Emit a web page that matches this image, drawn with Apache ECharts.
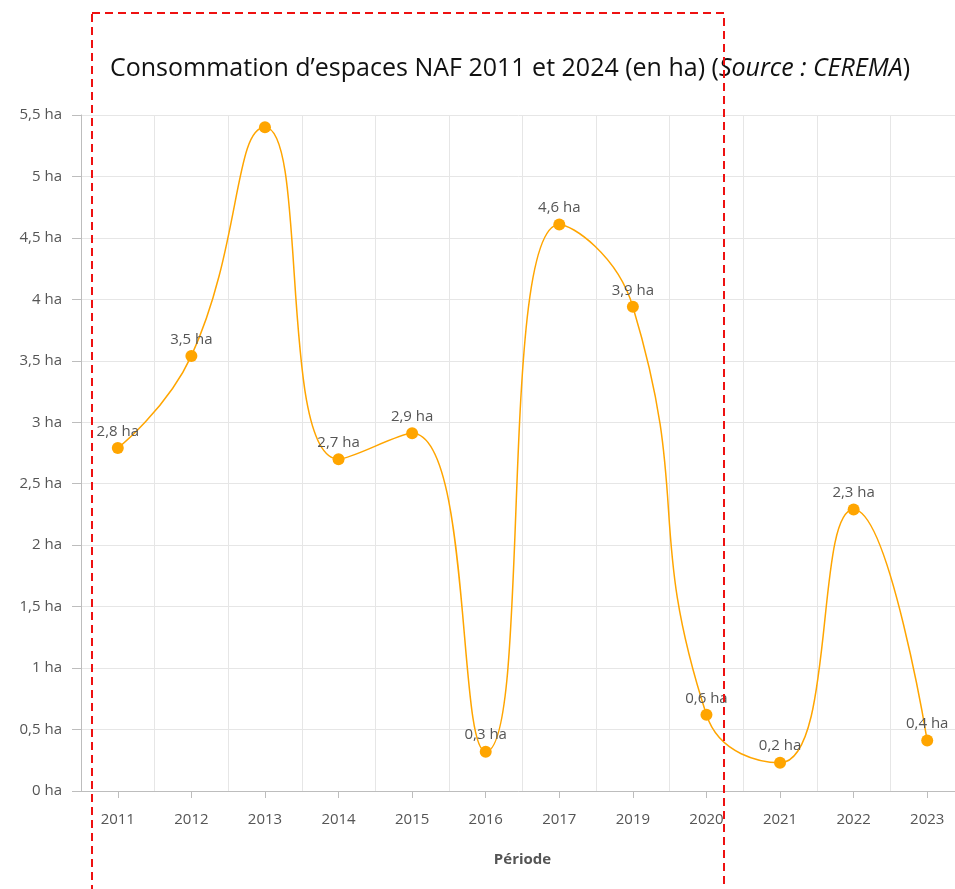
<!DOCTYPE html>
<html>
<head>
<meta charset="utf-8">
<style>
  html, body { margin: 0; padding: 0; background: #fff; }
  #chart { width: 955px; height: 889px; }
</style>
<script src="https://cdn.jsdelivr.net/npm/echarts@6/dist/echarts.min.js"></script>
</head>
<body>
<div id="chart"></div>
<script>
// Années (2018 absente de la série)
const years = ['2011', '2012', '2013', '2014', '2015', '2016', '2017', '2019', '2020', '2021', '2022', '2023'];
// Consommation d'espaces NAF, en hectares
const consumptionHa = [2.79, 3.54, 5.40, 2.70, 2.91, 0.32, 4.61, 3.94, 0.62, 0.23, 2.29, 0.41];
// Années dont la valeur est affichée au-dessus du point
const labelledYears = ['2011', '2012', '2014', '2015', '2016', '2017', '2019', '2020', '2021', '2022', '2023'];
// Graduations de l'axe des valeurs
const yMin = 0, yMax = 5.5, yStep = 0.5;

const FONT = '"Open Sans", "Noto Sans", sans-serif';
const fmtHa = v => (Math.round(v * 10) / 10).toString().replace('.', ',') + ' ha';

const chart = echarts.init(document.getElementById('chart'), null, { renderer: 'canvas' });

chart.setOption({
  animation: false,
  backgroundColor: '#ffffff',
  textStyle: { fontFamily: FONT },
  title: {
    text: 'Consommation d\u2019espaces NAF 2011 et 2024 (en ha) ({i|Source : CEREMA})',
    left: 505,
    textAlign: 'center',
    top: 51,
    textStyle: {
      fontFamily: FONT,
      fontSize: 25,
      fontWeight: 'normal',
      color: '#111',
      rich: {
        i: { fontFamily: FONT, fontSize: 25, fontStyle: 'italic', color: '#111' }
      }
    }
  },
  // la zone de tracé déborde légèrement à droite du cadre
  grid: { left: 81, right: -9, top: 115, bottom: 98, containLabel: false, outerBoundsMode: 'none' },
  xAxis: {
    type: 'category',
    data: years,
    boundaryGap: true,
    name: 'Période',
    nameLocation: 'middle',
    nameGap: 61,
    nameTextStyle: { fontFamily: FONT, fontSize: 15, fontWeight: 'bold', color: '#555' },
    axisLine: { show: true, lineStyle: { color: '#bdbdbd', width: 1 } },
    axisTick: { show: true, alignWithLabel: true, length: 7, lineStyle: { color: '#bdbdbd' } },
    axisLabel: { fontFamily: FONT, fontSize: 15, color: '#555', margin: 21 },
    splitLine: { show: true, lineStyle: { color: '#e6e6e6', width: 1 } }
  },
  yAxis: {
    type: 'value',
    min: yMin,
    max: yMax,
    interval: yStep,
    axisLine: { show: true, lineStyle: { color: '#bdbdbd', width: 1 } },
    axisTick: { show: true, inside: false, length: 9, lineStyle: { color: '#bdbdbd' } },
    axisLabel: { fontFamily: FONT, fontSize: 15, color: '#555', margin: 19, formatter: fmtHa },
    splitLine: { show: true, lineStyle: { color: '#e6e6e6', width: 1 } }
  },
  series: [{
    type: 'line',
    smooth: 0.5,
    data: consumptionHa.map((v, i) => ({
      value: v,
      label: { show: labelledYears.includes(years[i]) }
    })),
    symbol: 'circle',
    symbolSize: 12,
    showSymbol: true,
    lineStyle: { color: '#ffa500', width: 1.5 },
    itemStyle: { color: '#ffa500' },
    label: {
      show: true,
      position: 'top',
      distance: 3,
      fontFamily: FONT,
      fontSize: 15,
      color: '#555',
      formatter: p => fmtHa(p.value)
    }
  }],
  graphic: [{
    type: 'rect',
    shape: { x: 92, y: 13, width: 632, height: 900 },
    style: { fill: 'none', stroke: '#ee1111', lineWidth: 2, lineDash: [8, 5] },
    z: 100
  }]
});
</script>
</body>
</html>
